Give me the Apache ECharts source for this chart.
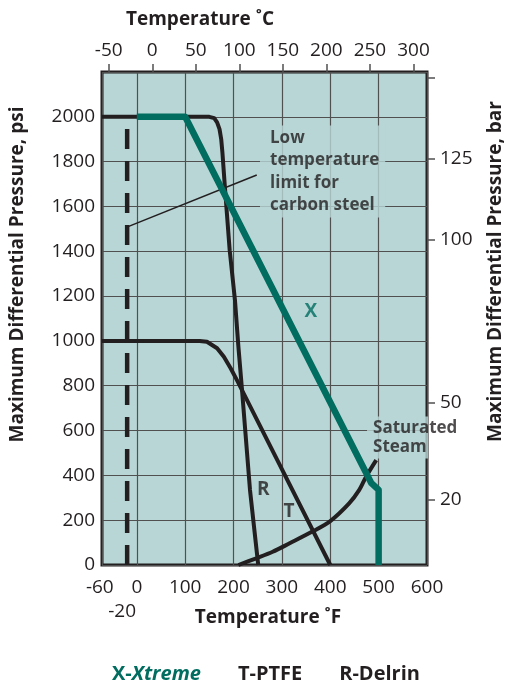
<!DOCTYPE html>
<html>
<head>
<meta charset="utf-8">
<script src="https://cdn.jsdelivr.net/npm/echarts@6/dist/echarts.min.js"></script>
<style>html,body{margin:0;padding:0;background:#fff}#c{width:507px;height:681px}</style>
</head>
<body>
<div id="c"></div>
<script>
// ---------- data ----------
const tempFMin = -72, tempFMax = 600;
const psiMax = 2200;
const psiPerBar = 14.5;

const tempFLabels = [-60, 0, 100, 200, 300, 400, 500, 600];
const tempFSubLabels = [-20];          // carbon-steel limit, written on a second row
const tempCTicks = [-50, 0, 50, 100, 150, 200, 250, 300];
const barTicks = [20, 50, 100, 125, 150];
const barLabels = [20, 50, 100, 125];

const xtremeF   = [0, 100, 485, 500, 500];
const xtremePsi = [2000, 2000, 365, 335, 0];

const ptfeF   = [-72, 130, 145, 166, 180, 194, 207, 400];
const ptfePsi = [1000, 1000, 996, 967, 929, 878, 825, 0];

const delrinF   = [-72, 150, 160, 166, 171, 174.5, 177, 182, 192, 203, 210, 217, 234, 251];
const delrinPsi = [2000, 2000, 1994, 1975, 1945, 1900, 1840, 1690, 1405, 1180, 975, 795, 335, 0];

const steamF   = [210, 247, 281, 316, 363, 400, 439, 460, 474, 495];
const steamPsi = [0, 30, 59, 97, 149, 196, 275, 335, 394, 468];

const carbonLimitF   = [-20, -20];
const carbonLimitPsi = [0, 1960];

const leaderF   = [-18, 248];
const leaderPsi = [1510, 1740];

// ---------- style ----------
const FONT = "'Open Sans', sans-serif";
const GREEN = '#006d60', INK = '#231f20', PLOT = '#b8d6d5', GRIDC = '#505050';

const pairs = (xs, ys) => xs.map((x, i) => [x, ys[i]]);

const chart = echarts.init(document.getElementById('c'), null, {renderer: 'canvas'});

const lineBase = {type: 'line', symbol: 'none', silent: true, xAxisIndex: 0, yAxisIndex: 0, animation: false};

chart.setOption({
  animation: false,
  textStyle: {fontFamily: FONT},
  grid: {left: 102, right: 80, top: 72, bottom: 116, show: true, backgroundColor: PLOT, borderColor: INK, borderWidth: 3, containLabel: false},
  legend: {
    data: ['X-Xtreme', 'T-PTFE', 'R-Delrin'],
    left: 101, top: 659, itemWidth: 0, itemHeight: 0, itemGap: 31, selectedMode: false,
    textStyle: {fontFamily: FONT, fontSize: 20, fontWeight: 'bold', color: INK,
      rich: {
        g: {color: GREEN, fontWeight: 'bold', fontSize: 20, fontFamily: FONT},
        gi: {color: GREEN, fontWeight: 'bold', fontStyle: 'italic', fontSize: 20, fontFamily: FONT},
        k: {color: INK, fontWeight: 'bold', fontSize: 20, fontFamily: FONT}
      }},
    formatter: name => name === 'X-Xtreme' ? '{g|X-}{gi|Xtreme}' : '{k|' + name + '}'
  },
  xAxis: [
    {
      type: 'value', position: 'bottom', min: tempFMin, max: tempFMax, minInterval: 100, maxInterval: 100,
      axisLine: {show: false, onZero: false}, axisTick: {show: false},
      splitLine: {show: true, lineStyle: {color: GRIDC, width: 1.2}},
      axisLabel: {
        customValues: tempFLabels, margin: 11, fontSize: 19, color: INK, fontFamily: FONT, lineHeight: 24,
        showMinLabel: true, showMaxLabel: true,
        formatter: v => v === -60 ? '{l|-60}' : String(v),
        rich: {l: {padding: [0, 16, 0, 0], fontSize: 19, lineHeight: 24, color: INK, fontFamily: FONT}}
      }
    },
    {
      type: 'value', position: 'top', min: (tempFMin - 32) / 1.8, max: (tempFMax - 32) / 1.8,
      axisLine: {show: false, onZero: false},
      axisTick: {show: true, customValues: tempCTicks, length: 8, lineStyle: {color: GRIDC, width: 1.5}},
      splitLine: {show: false},
      axisLabel: {customValues: tempCTicks, margin: 12, fontSize: 19, color: INK, fontFamily: FONT,
        showMinLabel: true, showMaxLabel: true}
    },
    {
      type: 'value', position: 'bottom', offset: 24, min: tempFMin, max: tempFMax,
      axisLine: {show: false, onZero: false}, axisTick: {show: false}, splitLine: {show: false},
      axisLabel: {
        customValues: tempFSubLabels, margin: 11, fontSize: 19, color: INK, fontFamily: FONT, lineHeight: 24,
        showMinLabel: true, showMaxLabel: true,
        formatter: v => '{m|' + v + '}',
        rich: {m: {padding: [0, 10, 0, 0], fontSize: 19, lineHeight: 24, color: INK, fontFamily: FONT}}
      }
    }
  ],
  yAxis: [
    {
      type: 'value', position: 'left', min: 0, max: psiMax, interval: 200,
      axisLine: {show: false, onZero: false}, axisTick: {show: false},
      splitLine: {show: true, lineStyle: {color: GRIDC, width: 1.2}},
      axisLabel: {margin: 7, fontSize: 19, color: INK, fontFamily: FONT, formatter: v => v > 2000 ? '' : String(v)}
    },
    {
      type: 'value', position: 'right', min: 0, max: psiMax / psiPerBar,
      axisLine: {show: false, onZero: false},
      axisTick: {show: true, customValues: barTicks, length: 8, lineStyle: {color: GRIDC, width: 1.5}},
      splitLine: {show: false},
      axisLabel: {customValues: barLabels, margin: 13, fontSize: 19, color: INK, fontFamily: FONT}
    }
  ],
  series: [
    Object.assign({}, lineBase, {name: 'carbon-limit', data: pairs(carbonLimitF, carbonLimitPsi), z: 3,
      lineStyle: {color: INK, width: 4.5, type: [20, 12], cap: 'butt'}}),
    Object.assign({}, lineBase, {name: 'leader', data: pairs(leaderF, leaderPsi), z: 3,
      lineStyle: {color: INK, width: 1.6}}),
    Object.assign({}, lineBase, {name: 'T-PTFE', data: pairs(ptfeF, ptfePsi), z: 4, color: INK,
      lineStyle: {color: INK, width: 4, join: 'round', cap: 'butt'}}),
    Object.assign({}, lineBase, {name: 'R-Delrin', data: pairs(delrinF, delrinPsi), z: 4, color: INK,
      lineStyle: {color: INK, width: 4, join: 'round', cap: 'butt'}}),
    Object.assign({}, lineBase, {name: 'Saturated Steam', data: pairs(steamF, steamPsi), z: 4, smooth: 0.3,
      lineStyle: {color: INK, width: 4, cap: 'butt'}}),
    Object.assign({}, lineBase, {name: 'X-Xtreme', data: pairs(xtremeF, xtremePsi), z: 5, color: GREEN,
      lineStyle: {color: GREEN, width: 6.5, join: 'round', cap: 'butt'}}),
    {
      type: 'scatter', name: 'annotations', symbolSize: 0, silent: true, z: 10, xAxisIndex: 0, yAxisIndex: 0, clip: false,
      label: {show: true, fontFamily: FONT, fontWeight: 'bold', color: INK},
      data: [
        {value: [360, 1129], label: {formatter: 'X', position: 'inside', fontSize: 19, color: GREEN}},
        {value: [261.5, 335], label: {formatter: 'R', position: 'inside', fontSize: 19}},
        {value: [314.7, 238], label: {formatter: 'T', position: 'inside', fontSize: 19}},
        {value: [254.7, 1756], label: {formatter: 'Low\ntemperature\nlimit for\ncarbon steel', position: 'right', distance: 0,
          fontSize: 17, lineHeight: 22.5, backgroundColor: PLOT, padding: [1, 6, 1, 10]}},
        {value: [476, 569], label: {formatter: 'Saturated\nSteam', position: 'right', distance: 0,
          fontSize: 17, lineHeight: 19, backgroundColor: PLOT, padding: [2, 0, 2, 6], width: 55, overflow: 'none'}}
      ]
    }
  ],
  graphic: [
    {type: 'text', x: 200, y: 20, silent: true,
      style: {text: 'Temperature ˚C', font: "bold 19px 'Open Sans', sans-serif", fill: INK, align: 'center', verticalAlign: 'middle'}},
    {type: 'text', x: 268, y: 618, silent: true,
      style: {text: 'Temperature ˚F', font: "bold 19px 'Open Sans', sans-serif", fill: INK, align: 'center', verticalAlign: 'middle'}},
    {type: 'text', x: 18, y: 274.5, rotation: Math.PI / 2, silent: true,
      style: {text: 'Maximum Differential Pressure, psi', font: "bold 19px 'Open Sans', sans-serif", fill: INK, align: 'center', verticalAlign: 'middle'}},
    {type: 'text', x: 496, y: 271.5, rotation: Math.PI / 2, silent: true,
      style: {text: 'Maximum Differential Pressure, bar', font: "bold 19px 'Open Sans', sans-serif", fill: INK, align: 'center', verticalAlign: 'middle'}}
  ]
});
</script>
</body>
</html>
